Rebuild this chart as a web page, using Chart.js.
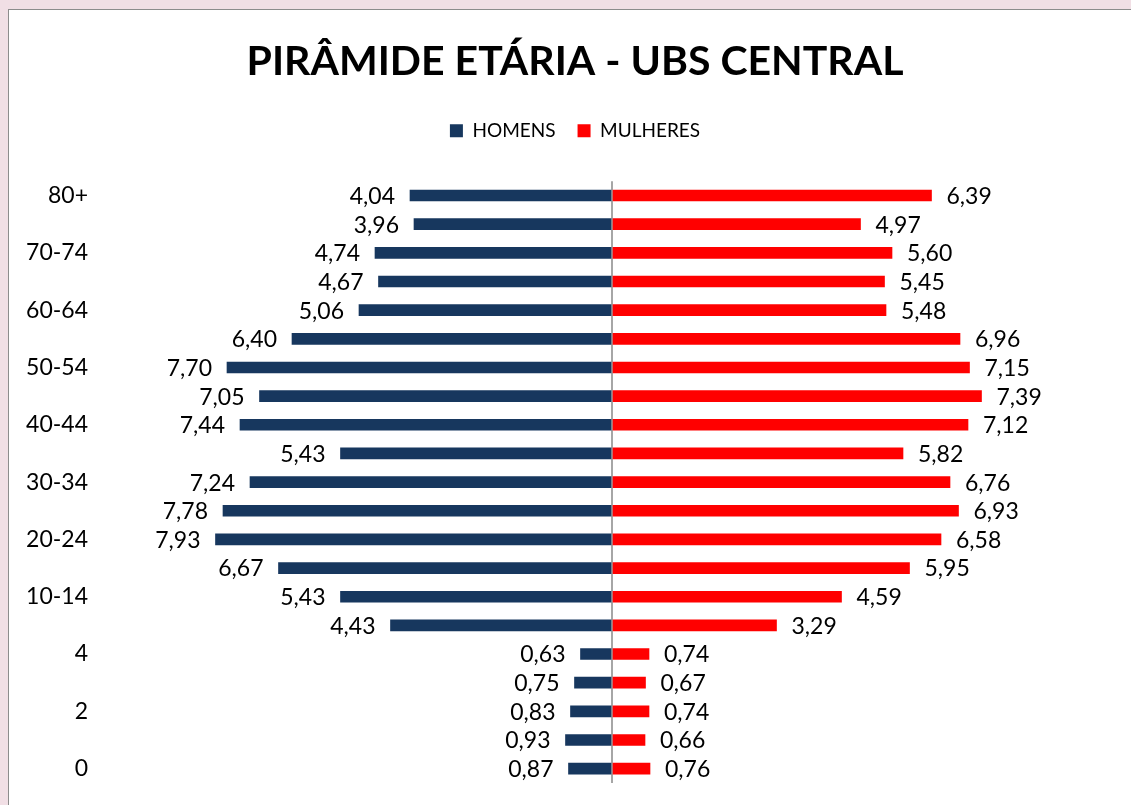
<!DOCTYPE html>
<html>
<head>
<meta charset="utf-8">
<script src="https://cdn.jsdelivr.net/npm/chart.js@4.4.1/dist/chart.umd.min.js"></script>
<style>
  html, body { margin: 0; padding: 0; }
  body { width: 1131px; height: 805px; background: #f1dfe5; overflow: hidden; position: relative; font-family: Lato, sans-serif; }
  #frame { position: absolute; left: 8px; top: 9px; width: 1140px; height: 820px; background: #ffffff; border: 1px solid #8c8c8c; }
  canvas { position: absolute; left: 0; top: 0; width: 1122px; height: 795px; }
</style>
</head>
<body>
<div id="frame"><canvas id="c" width="1122" height="795"></canvas></div>
<script>
// Age groups, top to bottom
const categories = ['80+','75-79','70-74','65-69','60-64','55-59','50-54','45-49','40-44','35-39','30-34','25-29','20-24','15-19','10-14','5-9','4','3','2','1','0'];
const homens   = [4.04, 3.96, 4.74, 4.67, 5.06, 6.40, 7.70, 7.05, 7.44, 5.43, 7.24, 7.78, 7.93, 6.67, 5.43, 4.43, 0.63, 0.75, 0.83, 0.93, 0.87];
const mulheres = [6.39, 4.97, 5.60, 5.45, 5.48, 6.96, 7.15, 7.39, 7.12, 5.82, 6.76, 6.93, 6.58, 5.95, 4.59, 3.29, 0.74, 0.67, 0.74, 0.66, 0.76];
const seriesNames = ['HOMENS', 'MULHERES'];
const titleText = 'PIRÂMIDE ETÁRIA - UBS CENTRAL';

const fmt = v => Math.abs(v).toFixed(2).replace('.', ',');

const valueLabels = {
  id: 'valueLabels',
  afterDatasetsDraw(chart) {
    const ctx = chart.ctx;
    ctx.save();
    ctx.font = '23px Lato';
    ctx.fillStyle = '#000000';
    ctx.textBaseline = 'middle';
    chart.data.datasets.forEach((ds, di) => {
      const meta = chart.getDatasetMeta(di);
      meta.data.forEach((bar, i) => {
        const v = ds.data[i];
        if (v < 0) { ctx.textAlign = 'right'; ctx.fillText(fmt(v), bar.x - 15, bar.y + 1); }
        else { ctx.textAlign = 'left'; ctx.fillText(fmt(v), bar.x + 15, bar.y + 1); }
      });
    });
    ctx.restore();
  }
};

const legendSpace = {
  id: 'legendSpace',
  beforeInit(chart) {
    const fit = chart.legend.fit;
    chart.legend.fit = function () { fit.call(this); this.height += 31; };
  }
};

new Chart(document.getElementById('c'), {
  type: 'bar',
  data: {
    labels: categories,
    datasets: [
      { label: seriesNames[0], data: homens.map(v => -v), backgroundColor: '#17375e', barThickness: 11, stack: 's' },
      { label: seriesNames[1], data: mulheres, backgroundColor: '#ff0000', barThickness: 11, stack: 's' }
    ]
  },
  options: {
    indexAxis: 'y',
    responsive: false,
    maintainAspectRatio: false,
    animation: false,
    layout: { padding: { left: 10, right: 0, top: 0, bottom: 22 } },
    plugins: {
      title: { display: true, text: titleText, color: '#000000', font: { family: 'Lato', size: 41, weight: 'bold' }, padding: { top: 27, bottom: 13 } },
      legend: {
        display: true, position: 'top',
        labels: { color: '#000000', font: { family: 'Lato', size: 19 }, boxWidth: 13, boxHeight: 13, padding: 22 }
      },
      tooltip: { enabled: false }
    },
    scales: {
      x: {
        stacked: true, min: -9, max: 10.38,
        afterFit(scale) { scale.height = 0; },
        ticks: { display: false },
        border: { display: false },
        grid: { drawTicks: false, lineWidth: 2, color: c => c.tick && c.tick.value === 0 ? '#a6a6a6' : 'rgba(0,0,0,0)' }
      },
      y: {
        stacked: true,
        afterFit(scale) { scale.width = 143; scale.paddingTop = 0; scale.paddingBottom = 0; },
        border: { display: false },
        grid: { display: false, drawTicks: false },
        ticks: {
          autoSkip: false, padding: 74, color: '#000000', font: { family: 'Lato', size: 23 },
          callback: function (val, idx) { return idx % 2 === 0 ? this.getLabelForValue(val) : ''; }
        }
      }
    }
  },
  plugins: [valueLabels, legendSpace]
});
</script>
</body>
</html>
